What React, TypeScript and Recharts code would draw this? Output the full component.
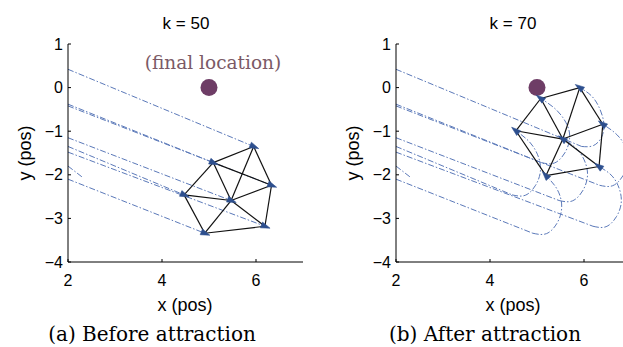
import { ComposedChart, XAxis, YAxis, Line, Scatter } from 'recharts';

const xTicks = [2, 4, 6];
const yTicks = [-4, -3, -2, -1, 0, 1];

// seven agents (A..G); y where each path enters the plot at x = 2
const entryY = [0.42, -0.38, -0.42, -1.35, -1.15, -1.48, -2.1];

// positions at k = 50
const posK50 = [
  [5.95, -1.35], [5.09, -1.72], [6.33, -2.24], [4.47, -2.46],
  [5.47, -2.59], [6.19, -3.18], [4.91, -3.34],
];

// positions at k = 70
const posK70 = [
  [5.91, 0.0], [5.08, -0.25], [6.4, -0.84], [4.55, -0.99],
  [5.55, -1.18], [6.32, -1.81], [5.19, -2.02],
];

// turn-around loops between k = 50 and k = 70
const loopK70 = [
  [[6.2, -1.33], [6.38, -1.12], [6.42, -0.8], [6.32, -0.45], [6.15, -0.18]],
  [[5.37, -1.73], [5.59, -1.5], [5.69, -1.2], [5.65, -0.88], [5.42, -0.52]],
  [[6.61, -2.25], [6.83, -2.02], [6.93, -1.72], [6.9, -1.4], [6.7, -1.08]],
  [[4.75, -2.47], [4.97, -2.24], [5.07, -1.94], [5.04, -1.62], [4.86, -1.27]],
  [[5.75, -2.6], [5.97, -2.37], [6.07, -2.07], [6.04, -1.76], [5.86, -1.42]],
  [[6.47, -3.19], [6.69, -2.96], [6.79, -2.66], [6.76, -2.35], [6.6, -2.03]],
  [[5.2, -3.35], [5.42, -3.12], [5.52, -2.82], [5.5, -2.52], [5.38, -2.25]],
];

const edgesK50 = [
  [0, 1], [0, 4], [0, 2], [1, 2], [1, 3], [1, 4], [2, 4],
  [2, 5], [3, 4], [3, 6], [4, 6], [4, 5], [5, 6],
];
const edgesK70 = [
  [0, 1], [0, 4], [0, 2], [1, 3], [1, 4], [2, 4],
  [2, 5], [3, 4], [3, 6], [4, 6], [4, 5], [5, 6],
];

const stubX = [2, 2.3];
const stubY = [-1.8, -2.05];

const target = [{ x: 5, y: 0 }];

const pt = (p: number[]) => ({ x: p[0], y: p[1] });
const sans = '"Liberation Sans", Arial, sans-serif';
const serif = '"DejaVu Serif", serif';
const trajColor = '#5b79b9';
const fmt = (v: number) => (v < 0 ? '\u2212' + Math.abs(v) : String(v));

const heading = (a: number[], b: number[]) =>
  Math.atan2(-(b[1] - a[1]) * 43.8, (b[0] - a[0]) * 47);

const Arrow = (props: any) => {
  const { cx, cy, payload } = props;
  if (cx == null || cy == null) return <g />;
  const a = payload.angle;
  const p = (r: number, t: number) => `${cx + r * Math.cos(t)},${cy + r * Math.sin(t)}`;
  return (
    <polygon
      points={[p(5.5, a), p(4.8, a + 2.45), p(4.8, a - 2.45)].join(' ')}
      fill="#2d4f8e"
      stroke="#2d4f8e"
      strokeWidth={0.6}
    />
  );
};

const Dot = (props: any) =>
  props.cx == null ? <g /> : <circle cx={props.cx} cy={props.cy} r={8.5} fill="#6e3d66" />;

function Txt({ x, y, size, font, color = '#000', rotate = 0, children }: any) {
  return (
    <div
      style={{
        position: 'absolute',
        left: x,
        top: y,
        transform: `translate(-50%, -50%) rotate(${rotate}deg)`,
        fontSize: size,
        fontFamily: font,
        color,
        whiteSpace: 'nowrap',
        lineHeight: 1,
      }}
    >
      {children}
    </div>
  );
}

function Panel({ left, width, marginLeft, marginRight, straight, curves, edges, nodes }: any) {
  const tick = { fontSize: 16, fill: '#000', fontFamily: sans };
  return (
    <div style={{ position: 'absolute', left, top: 0 }}>
      <ComposedChart
        width={width}
        height={347}
        margin={{ top: 44, right: marginRight, bottom: 55, left: marginLeft }}
      >
        <XAxis
          type="number"
          dataKey="x"
          domain={[2, 7]}
          ticks={xTicks}
          allowDataOverflow
          height={30}
          tickSize={-3}
          tickMargin={16}
          tick={tick}
          tickFormatter={fmt}
          axisLine={{ stroke: '#000' }}
          tickLine={{ stroke: '#000' }}
        />
        <YAxis
          type="number"
          dataKey="y"
          domain={[-4, 1]}
          ticks={yTicks}
          allowDataOverflow
          width={28}
          tickSize={-3}
          tickMargin={8}
          tick={tick}
          tickFormatter={fmt}
          axisLine={{ stroke: '#000' }}
          tickLine={{ stroke: '#000' }}
        />
        {straight.map((d: any, i: number) => (
          <Line
            key={'s' + i}
            data={d}
            dataKey="y"
            type="linear"
            stroke={trajColor}
            strokeWidth={1}
            strokeDasharray="6 2 1.5 2"
            dot={false}
            activeDot={false}
            isAnimationActive={false}
          />
        ))}
        {curves.map((d: any, i: number) => (
          <Line
            key={'c' + i}
            data={d}
            dataKey="y"
            type="natural"
            stroke={trajColor}
            strokeWidth={1}
            strokeDasharray="6 2 1.5 2"
            dot={false}
            activeDot={false}
            isAnimationActive={false}
          />
        ))}
        {edges.map((d: any, i: number) => (
          <Line
            key={'e' + i}
            data={d}
            dataKey="y"
            type="linear"
            stroke="#111"
            strokeWidth={1.2}
            dot={false}
            activeDot={false}
            isAnimationActive={false}
          />
        ))}
        <Scatter data={target} dataKey="y" shape={Dot} isAnimationActive={false} />
        <Scatter data={nodes} dataKey="y" shape={Arrow} isAnimationActive={false} />
      </ComposedChart>
    </div>
  );
}

export default function App() {
  const stub = stubX.map((x, i) => ({ x, y: stubY[i] }));
  const lines = entryY.map((y, i) => [{ x: 2, y }, pt(posK50[i])]);

  const leftNodes = posK50.map((p, i) => ({
    x: p[0],
    y: p[1],
    angle: heading([2, entryY[i]], p),
  }));
  const leftEdges = edgesK50.map(([a, b]) => [pt(posK50[a]), pt(posK50[b])]);

  const loops = posK50.map((p, i) => [pt(p), ...loopK70[i].map(pt), pt(posK70[i])]);
  const rightNodes = posK70.map((p, i) => ({
    x: p[0],
    y: p[1],
    angle: heading(loopK70[i][loopK70[i].length - 1], p),
  }));
  const rightEdges = edgesK70.map(([a, b]) => [pt(posK70[a]), pt(posK70[b])]);

  return (
    <div
      style={{
        position: 'fixed',
        left: 0,
        top: 0,
        width: 623,
        height: 347,
        overflow: 'hidden',
        background: '#fff',
      }}
    >
      <Panel
        left={0}
        width={320}
        marginLeft={40}
        marginRight={17}
        straight={[...lines, stub]}
        curves={[]}
        edges={leftEdges}
        nodes={leftNodes}
      />
      <Panel
        left={310}
        width={340}
        marginLeft={58}
        marginRight={19}
        straight={[...lines, stub]}
        curves={loops}
        edges={rightEdges}
        nodes={rightNodes}
      />
      <Txt x={186} y={23} size={17} font={sans}>k = 50</Txt>
      <Txt x={513} y={23} size={17} font={sans}>k = 70</Txt>
      <Txt x={213} y={63} size={18.5} font={serif} color="#7b5a66">(final location)</Txt>
      <Txt x={185} y={305} size={18} font={sans}>x (pos)</Txt>
      <Txt x={513} y={305} size={18} font={sans}>x (pos)</Txt>
      <Txt x={25} y={153} size={18} font={sans} rotate={-90}>y (pos)</Txt>
      <Txt x={353} y={153} size={18} font={sans} rotate={-90}>y (pos)</Txt>
      <Txt x={152} y={334} size={20} font={serif}>(a) Before attraction</Txt>
      <Txt x={485} y={334} size={20} font={serif}>(b) After attraction</Txt>
    </div>
  );
}
